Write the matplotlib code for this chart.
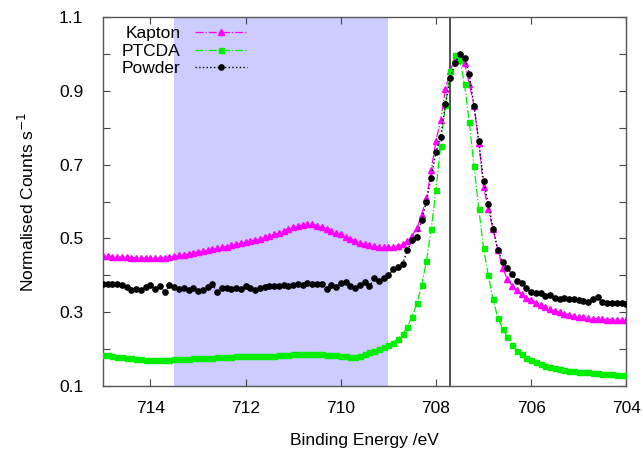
import numpy as np
import matplotlib
matplotlib.use('Agg')
import matplotlib.pyplot as plt
from matplotlib.ticker import FixedLocator

plt.rcParams['font.family'] = ['Liberation Sans', 'DejaVu Sans']

# Binding energy grid (eV), 0.1 eV steps from 715 down to 704
energi = np.round(np.arange(715.0, 703.95, -0.1), 1)

kapton = [
    0.452, 0.452, 0.451, 0.450, 0.450, 0.449, 0.448, 0.448, 0.447, 0.447, 0.447,
    0.446, 0.447, 0.448, 0.450, 0.452, 0.454, 0.456, 0.458, 0.461, 0.463,
    0.466, 0.468, 0.471, 0.473, 0.476, 0.478, 0.481, 0.484, 0.487, 0.490,
    0.493, 0.496, 0.499, 0.503, 0.507, 0.511, 0.515, 0.520, 0.525, 0.530,
    0.534, 0.537, 0.539, 0.538, 0.535, 0.531, 0.526, 0.521, 0.516, 0.511,
    0.505, 0.499, 0.494, 0.489, 0.485, 0.482, 0.479, 0.477, 0.476, 0.476,
    0.477, 0.479, 0.484, 0.493, 0.508, 0.528, 0.565, 0.610, 0.685, 0.765,
    0.822, 0.905, 0.955, 0.985, 0.995, 0.975, 0.920, 0.860, 0.760, 0.640,
    0.580, 0.525, 0.470, 0.420, 0.390, 0.372, 0.360, 0.350, 0.340, 0.333,
    0.326, 0.319, 0.314, 0.309, 0.304, 0.300, 0.296, 0.293, 0.290, 0.288,
    0.286, 0.284, 0.283, 0.282, 0.281, 0.280, 0.280, 0.279, 0.278, 0.278,
]

ptcda = [
    0.184, 0.183, 0.182, 0.180, 0.179, 0.177, 0.175, 0.173, 0.172, 0.171, 0.170,
    0.170, 0.170, 0.171, 0.171, 0.172, 0.173, 0.174, 0.174, 0.175, 0.176,
    0.176, 0.177, 0.177, 0.178, 0.178, 0.179, 0.180, 0.181, 0.181, 0.181,
    0.182, 0.181, 0.181, 0.181, 0.182, 0.182, 0.183, 0.184, 0.185, 0.186,
    0.187, 0.188, 0.188, 0.188, 0.187, 0.186, 0.185, 0.184, 0.183, 0.182,
    0.181, 0.180, 0.180, 0.182, 0.186, 0.191, 0.196, 0.200, 0.206, 0.212,
    0.218, 0.228, 0.241, 0.261, 0.288, 0.325, 0.373, 0.440, 0.525, 0.632,
    0.751, 0.862, 0.955, 0.997, 0.983, 0.918, 0.815, 0.697, 0.580, 0.475,
    0.400, 0.335, 0.285, 0.256, 0.233, 0.211, 0.196, 0.186, 0.177, 0.170,
    0.164, 0.159, 0.155, 0.152, 0.149, 0.146, 0.144, 0.142, 0.141, 0.139,
    0.138, 0.137, 0.136, 0.135, 0.134, 0.133, 0.132, 0.131, 0.131, 0.130,
]

powder = [
    0.376, 0.377, 0.376, 0.377, 0.374, 0.368, 0.360, 0.362, 0.360, 0.368, 0.373,
    0.362, 0.370, 0.355, 0.373, 0.369, 0.364, 0.366, 0.360, 0.367, 0.357,
    0.360, 0.368, 0.376, 0.354, 0.365, 0.366, 0.362, 0.367, 0.364, 0.370,
    0.366, 0.360, 0.366, 0.368, 0.370, 0.371, 0.371, 0.375, 0.370, 0.374,
    0.376, 0.375, 0.378, 0.376, 0.376, 0.376, 0.364, 0.375, 0.368, 0.378,
    0.382, 0.372, 0.367, 0.374, 0.382, 0.370, 0.392, 0.386, 0.393, 0.400,
    0.416, 0.422, 0.432, 0.468, 0.495, 0.505, 0.550, 0.600, 0.665, 0.735,
    0.776, 0.864, 0.935, 0.975, 1.000, 0.990, 0.945, 0.860, 0.763, 0.655,
    0.594, 0.527, 0.470, 0.436, 0.420, 0.404, 0.386, 0.378, 0.366, 0.355,
    0.352, 0.352, 0.344, 0.348, 0.340, 0.337, 0.338, 0.336, 0.335, 0.333,
    0.330, 0.328, 0.335, 0.341, 0.327, 0.326, 0.326, 0.325, 0.326, 0.322,
]

# Daerah yang diarsir dan posisi garis vertikal (eV)
arsir_awal, arsir_akhir = 713.5, 709.0
garis_puncak = 707.7

fig = plt.figure(figsize=(6.43, 4.51), dpi=100)
ax = fig.add_axes([0.160, 0.144, 0.814, 0.818])

ax.axvspan(arsir_akhir, arsir_awal, color='#ccccff', lw=0, zorder=0)
ax.axvline(garis_puncak, color='#333333', lw=1.2, zorder=1)

ax.plot(energi, kapton, color='#ff00ff', ls='-.', lw=0.9, marker='^',
        ms=4.4, mec='#ff00ff', mfc='#ff00ff', label='Kapton', zorder=2)
ax.plot(energi, ptcda, color='#00ee00', ls='-.', lw=0.9, marker='s',
        ms=3.6, mec='#00ee00', mfc='#00ee00', label='PTCDA', zorder=3)
ax.plot(energi, powder, color='black', ls=':', lw=1.0, marker='o',
        ms=3.8, mec='black', mfc='black', label='Powder', zorder=4)

ax.set_xlim(715, 704)
ax.set_ylim(0.1, 1.1)

ax.xaxis.set_major_locator(FixedLocator([714, 712, 710, 708, 706, 704]))
ax.yaxis.set_major_locator(FixedLocator([0.1, 0.3, 0.5, 0.7, 0.9, 1.1]))
ax.yaxis.set_minor_locator(FixedLocator([0.2, 0.4, 0.6, 0.8, 1.0]))
ax.set_yticklabels(['0.1', '0.3', '0.5', '0.7', '0.9', '1.1'])

ax.tick_params(which='both', direction='in', top=True, right=True,
               length=5, width=0.8, color='#444444', labelsize=12.5)
ax.tick_params(axis='y', pad=14)
ax.tick_params(axis='x', pad=11)
for s in ax.spines.values():
    s.set_color('#555555')
    s.set_linewidth(1.0)

ax.set_xlabel('Binding Energy /eV', fontsize=12.5, labelpad=12)
ax.set_ylabel('Normalised Counts s$^{-1}$', fontsize=12.5, labelpad=16)

ax.legend(loc='upper left', frameon=False, markerfirst=False, fontsize=12.5,
          handlelength=3.0, handletextpad=0.8, labelspacing=0.15,
          borderaxespad=0.1, bbox_to_anchor=(0.02, 1.0))

fig.savefig('out.png', dpi=100)
